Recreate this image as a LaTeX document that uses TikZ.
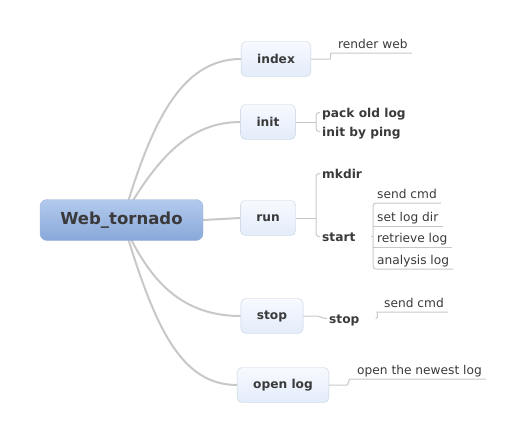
\documentclass[tikz,border=0pt]{standalone}
\usepackage{fontspec}
\setmainfont{DejaVu Sans}
\usetikzlibrary{backgrounds}
\definecolor{txtgray}{HTML}{3A3A3A}
\definecolor{linkgray}{HTML}{C8C8C8}
\definecolor{boxline}{HTML}{C6D0DE}
\definecolor{boxtop}{HTML}{F7FAFF}
\definecolor{boxbottom}{HTML}{E3ECFA}
\definecolor{rootline}{HTML}{9FB5D6}
\definecolor{roottop}{HTML}{B3CAEC}
\definecolor{rootbottom}{HTML}{88A7DA}

\begin{document}
\begin{tikzpicture}[x=1pt,y=-1pt,
    font=\fontsize{12.2}{14}\selectfont, text=txtgray,
    root/.style={draw=rootline, rounded corners=7pt, top color=roottop, bottom color=rootbottom,
                 minimum width=163pt, minimum height=41pt, font=\fontsize{16.5}{18}\selectfont\bfseries},
    topic/.style={draw=boxline, rounded corners=5pt, top color=boxtop, bottom color=boxbottom,
                  minimum height=35pt, inner xsep=16pt, font=\fontsize{12.2}{14}\selectfont\bfseries},
    bold/.style={inner xsep=2pt, text height=9pt, text depth=0pt, font=\fontsize{12.2}{14}\selectfont\bfseries, anchor=base west},
    leaf/.style={inner xsep=4pt, inner ysep=4.5pt, text height=9pt, text depth=0pt, anchor=south west},
    branch/.style={draw=linkgray, line width=2pt},
    sub/.style={draw=linkgray, line width=1pt, rounded corners=3pt}]

  \useasboundingbox (0,0) rectangle (526,442);

  % main topics
  \node[root] (root) at (121.5,220) {Web\_tornado};
  \node[topic] (index) at (276,59) {index};
  \node[topic] (init) at (268,122) {init};
  \node[topic] (run) at (268,218) {run};
  \node[topic] (stop) at (272,316) {stop};
  \node[topic] (openlog) at (283,385) {open log};

  % sub topics
  \node[leaf] (render) at (334,53) {render web};
  \node[bold] (pack) at (320,117) {pack old log};
  \node[bold] (ping) at (320,136) {init by ping};
  \node[bold] (mkdir) at (320,178) {mkdir};
  \node[bold] (start) at (320,241) {start};
  \node[leaf] (sendcmd) at (373,203) {send cmd};
  \node[leaf] (setlog) at (373,226) {set log dir};
  \node[leaf] (retrieve) at (373,247) {retrieve log};
  \node[leaf] (analysis) at (373,269) {analysis log};
  \node[bold] (stopsub) at (327,323) {stop};
  \node[leaf] (stopcmd) at (380,312) {send cmd};
  \node[leaf] (newest) at (353,379) {open the newest log};

  \coordinate (initj) at (316,122);
  \coordinate (runj) at (316,218);
  \coordinate (startj) at (373,236.5);

  \begin{scope}[on background layer]
    \draw[branch] ([shift={(2.5,-5)}]root.center) .. controls (151,125) and (180,59) .. (index.west);
    \draw[branch] ([shift={(2.5,-5)}]root.center) .. controls (154,165) and (185,122) .. (init.west);
    \draw[branch] (root.east) -- (run.west);
    \draw[branch] ([shift={(2.5,5)}]root.center) .. controls (146,272) and (175,316) .. (stop.west);
    \draw[branch] ([shift={(2.5,5)}]root.center) .. controls (154,325) and (180,385) .. (openlog.west);
  \end{scope}

  \draw[sub] (index.east) -- ++(16,0) to[out=0,in=180] (render.south west) -- (render.south east);
  \draw[sub] (init.east) -- (initj);
  \draw[sub] (pack.west) -| (initj) |- (ping.west);
  \draw[sub] (run.east) -- (runj);
  \draw[sub] (mkdir.west) -| (runj) |- (start.west);
  \draw[sub] ([xshift=13pt]start.east) -- (startj);
  \draw[sub] (sendcmd.south east) -- (sendcmd.south west) -- (analysis.south west) -- (analysis.south east);
  \draw[sub] (setlog.south west) -- (setlog.south east);
  \draw[sub] (retrieve.south west) -- (retrieve.south east);
  \draw[sub] (stop.east) -- ++(11,0) to[out=0,in=180] (stopsub.west);
  \draw[sub] ([xshift=14pt]stopsub.east) to[out=0,in=180] (stopcmd.south west) -- (stopcmd.south east);
  \draw[sub] (openlog.east) -- ++(15,0) to[out=0,in=180] (newest.south west) -- (newest.south east);
\end{tikzpicture}
\end{document}
